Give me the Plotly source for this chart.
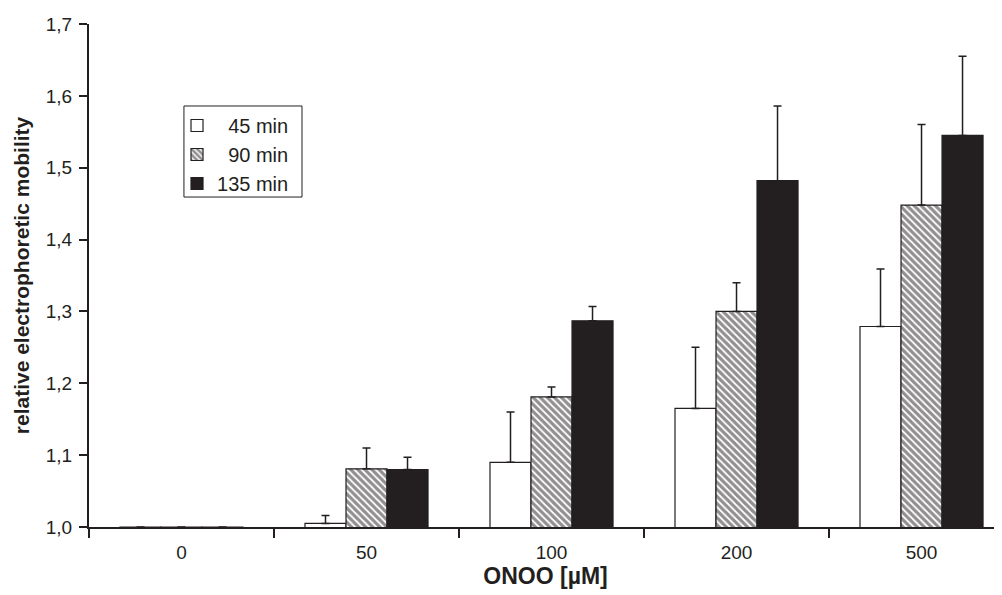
import plotly.graph_objects as go

categories = ["0", "50", "100", "200", "500"]
series_names = ["45 min", "90 min", "135 min"]
legend_labels = ["\u00a0\u00a045 min", "\u00a0\u00a090 min", "135 min"]
v45 = [1.0, 1.005, 1.09, 1.165, 1.279]
v90 = [1.0, 1.081, 1.181, 1.300, 1.448]
v135 = [1.0, 1.080, 1.287, 1.482, 1.545]
e45 = [0, 0.011, 0.070, 0.085, 0.080]
e90 = [0, 0.029, 0.014, 0.040, 0.112]
e135 = [0, 0.017, 0.020, 0.104, 0.110]
y_ticks = [1.0, 1.1, 1.2, 1.3, 1.4, 1.5, 1.6, 1.7]

INK = "#231f20"
FONT = "Liberation Sans, Arial, sans-serif"

fig = go.Figure()
styles = [
    dict(color="white", pattern=dict(shape="")),
    dict(color="white", pattern=dict(shape="\\", fgcolor=INK, bgcolor="white", size=5, solidity=0.65, fillmode="overlay")),
    dict(color=INK, pattern=dict(shape="")),
]
for name, lab, vals, errs, st in zip(series_names, legend_labels, [v45, v90, v135], [e45, e90, e135], styles):
    fig.add_trace(go.Bar(
        x=categories, y=vals, name=lab,
        marker=dict(color=st["color"], pattern=st["pattern"], line=dict(color=INK, width=1.2)),
        error_y=dict(type="data", array=errs, arrayminus=[0]*len(errs), symmetric=False,
                     color=INK, thickness=1.5, width=4),
    ))

# legend frame
fig.add_shape(type="rect", xref="paper", yref="paper",
              x0=0.104, x1=0.2333, y0=0.656, y1=0.837,
              line=dict(color=INK, width=1), fillcolor="rgba(0,0,0,0)")

fig.update_layout(
    width=994, height=587,
    margin=dict(l=81, r=0, t=16, b=68),
    paper_bgcolor="white", plot_bgcolor="white",
    barmode="group", bargap=0.335, bargroupgap=0,
    separators=", ",
    font=dict(family=FONT, size=19, color=INK),
    legend=dict(x=0.0964, y=0.837, xanchor="left", yanchor="top",
                borderwidth=0, bgcolor="rgba(0,0,0,0)",
                font=dict(size=20, family=FONT, color=INK),
                itemwidth=30, tracegroupgap=0),
    showlegend=True,
)
fig.update_xaxes(
    type="category", range=[-0.5, 4.435],
    showline=True, linecolor=INK, linewidth=2,
    ticks="outside", ticklen=9, tickwidth=2, tickcolor=INK, tickson="boundaries",
    ticklabelstandoff=7,
    showgrid=False, zeroline=False,
    title=dict(text="<b>ONOO [µM]</b>", font=dict(size=23, family=FONT), standoff=6),
)
fig.update_yaxes(
    range=[1.0, 1.7], tickvals=y_ticks, tickformat=".1f",
    showline=True, linecolor=INK, linewidth=2,
    ticks="outside", ticklen=8, tickwidth=2, tickcolor=INK,
    ticklabelstandoff=3,
    showgrid=False, zeroline=False,
    title=dict(text="<b>relative electrophoretic mobility</b>", font=dict(size=21, family=FONT), standoff=10),
)

fig.write_html("out.html")
